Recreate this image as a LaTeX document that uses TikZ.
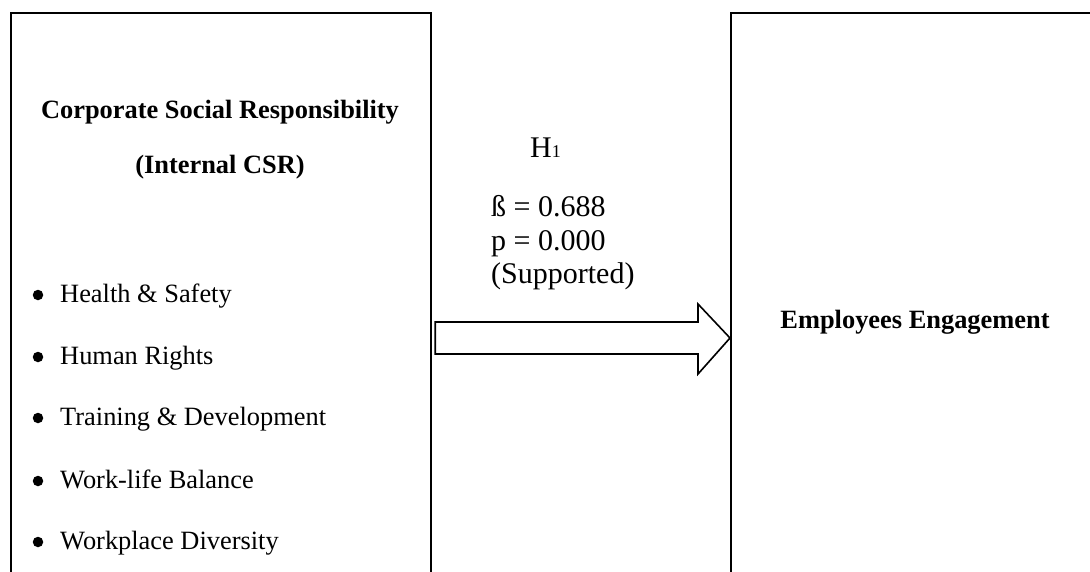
\documentclass[tikz,border=0pt]{standalone}
\usepackage{fontspec}
\setmainfont{Liberation Serif}
\begin{document}
\begin{tikzpicture}[x=1pt,y=-1pt,
  frame/.style={draw=black, line width=2.2pt, anchor=north west, inner sep=0pt},
  title/.style={font=\fontsize{26.4}{30}\selectfont\bfseries, anchor=base, inner sep=0pt},
  item/.style={font=\fontsize{26.4}{30}\selectfont, anchor=base west, inner sep=0pt},
  dot/.style={circle, fill=black, inner sep=0pt, minimum size=10.5pt},
  stat/.style={font=\fontsize{30}{34}\selectfont, anchor=base west, inner sep=0pt},
  blockarrow/.style={draw=black, line width=1.6pt, fill=white, line join=miter}
]
\useasboundingbox (0,0) rectangle (1090,571);
\clip (0,0) rectangle (1090,571);

% the two construct boxes (they run past the lower and right edges)
\node[frame, minimum width=420pt, minimum height=640pt] (csr) at (10,12) {};
\node[frame, minimum width=420pt, minimum height=640pt] (ee) at (730,12) {};

% independent variable
\node[title] (t1) at (220,118) {Corporate Social Responsibility};
\node[title] (t2) at (220,173) {(Internal CSR)};

\foreach \y/\name/\txt in {295/a/Health \& Safety,
                           357/b/Human Rights,
                           418/c/Training \& Development,
                           481/d/Work-life Balance,
                           542/e/Workplace Diversity}{
  \node[dot] (dot\name) at (38,\y) {};
  \node[item] (item\name) at (60,\y+7) {\txt};
}

% dependent variable
\node[title] (dv) at (915,328) {Employees Engagement};

% hypothesis label
\node[stat] (h1) at (530,157) {H{\fontsize{18}{20}\selectfont 1}};
\node[stat] (beta) at (491,216) {ß = 0.688};
\node[stat] (pval) at (491,250) {p = 0.000};
\node[stat] (supp) at (491,283) {(Supported)};

% block arrow from the CSR box to the engagement box
\coordinate (tail) at ([xshift=3pt]csr.east |- 0,338);
\coordinate (tip) at (ee.west |- 0,338);
\draw[blockarrow] (tail |- 0,322) -- (698,322) -- (698,304) -- (tip)
  -- (698,374) -- (698,354) -- (tail |- 0,354) -- cycle;
\end{tikzpicture}
\end{document}
